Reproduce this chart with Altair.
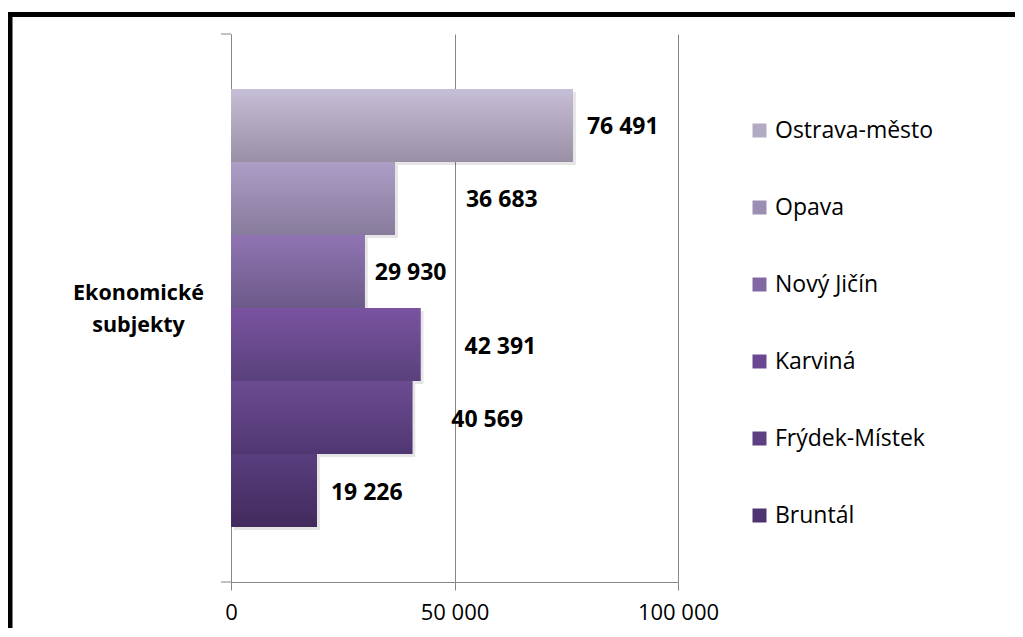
import altair as alt
import pandas as pd

# ---- data ----
districts = ["Ostrava-město", "Opava", "Nový Jičín", "Karviná", "Frýdek-Místek", "Bruntál"]
values = [76491, 36683, 29930, 42391, 40569, 19226]
category_title = ["Ekonomické", "subjekty"]
x_ticks = [0, 50000, 100000]

# ---- styles ----
grad_top = ["#c7bed7", "#ad9dc7", "#9074b3", "#7b53a1", "#6b4b91", "#583e7d"]
grad_bottom = ["#9990a5", "#877b9b", "#6c5a89", "#59417b", "#503771", "#432a5d"]
legend_colors = ["#b3aac3", "#9c8eb3", "#8168a3", "#6a4891", "#5d4082", "#4d3470"]
label_dx = [14, 71, 10, 44, 39, 14]
FONT = "Open Sans"
GRAY = "#868686"

W, H = 447, 548
PAD_L, PAD_T = 223, 26
TOTAL_W, TOTAL_H = 1007, 620

df = pd.DataFrame({
    "district": districts,
    "value": values,
    "label": [f"{v:,}".replace(",", " ") for v in values],
})

xenc = alt.X(
    "value:Q",
    scale=alt.Scale(domain=[0, 100000]),
    axis=alt.Axis(
        values=x_ticks, grid=True, gridColor=GRAY, gridWidth=1,
        domainColor=GRAY, tickColor=GRAY, tickSize=8,
        labelFont=FONT, labelFontSize=22, labelColor="#000", labelPadding=12,
        labelFlush=False, labelOverlap=False, labelBound=False,
        labelExpr="replace(format(datum.value, ','), /,/g, ' ')",
        title=None,
    ),
)
yenc = alt.Y(
    "district:N",
    sort=districts,
    scale=alt.Scale(domain=districts, paddingInner=0, paddingOuter=0.753),
    axis=alt.Axis(
        domain=True, domainColor=GRAY, ticks=False, labels=False, grid=False,
        title=category_title, titleAngle=0, titleAlign="center", titleBaseline="middle",
        titleX=-93, titleY=259, titleFont=FONT, titleFontSize=21.5, titleFontWeight="bold",
        titleColor="#000", titleLineHeight=32,
    ),
)

base = alt.Chart(df)

shadow = base.mark_bar(color="#000000", opacity=0.10, xOffset=3, yOffset=3).encode(x=xenc, y=yenc)

legend_bars = base.mark_bar().encode(
    x=xenc, y=yenc,
    color=alt.Color(
        "district:N",
        scale=alt.Scale(domain=districts, range=legend_colors),
        legend=alt.Legend(
            title=None, orient="none", legendX=517, legendY=85,
            symbolType="square", symbolSize=196, symbolStrokeWidth=0,
            labelFont=FONT, labelFontSize=23, labelColor="#000",
            rowPadding=53, labelOffset=4, labelLimit=300,
        ),
    ),
)

layers = [shadow, legend_bars]
for i, d in enumerate(districts):
    sub = base.transform_filter(alt.datum.district == d)
    grad = alt.LinearGradient(
        gradient="linear", x1=0, y1=0, x2=0, y2=1,
        stops=[alt.GradientStop(color=grad_top[i], offset=0),
               alt.GradientStop(color=grad_bottom[i], offset=1)],
    )
    layers.append(sub.mark_bar(color=grad).encode(x=xenc, y=yenc))
    layers.append(
        sub.mark_text(align="left", baseline="middle", dx=label_dx[i], dy=2, font=FONT,
                      fontSize=23, fontWeight="bold", color="#000").encode(
            x=xenc, y=yenc, text="label:N")
    )

one = pd.DataFrame({"k": [0]})
# small category-boundary ticks on the vertical axis
tick_top = alt.Chart(one).mark_rule(color=GRAY).encode(
    x=alt.value(-10), x2=alt.value(0), y=alt.value(0))
tick_bot = alt.Chart(one).mark_rule(color=GRAY).encode(
    x=alt.value(-10), x2=alt.value(0), y=alt.value(H))
# outer black frame
frame = alt.Chart(one).mark_rect(fill=None, stroke="#000000", strokeWidth=5).encode(
    x=alt.value(-221), x2=alt.value(TOTAL_W), y=alt.value(-19.5), y2=alt.value(TOTAL_H + 20))

chart = alt.layer(*layers, tick_top, tick_bot, frame).properties(
    width=W, height=H,
    autosize=alt.AutoSizeParams(type="none"),
    padding={"left": PAD_L, "top": PAD_T, "right": TOTAL_W - PAD_L - W, "bottom": TOTAL_H - PAD_T - H},
    background="white",
).configure_view(stroke=None)

chart.save("out.html", embed_options={"renderer": "svg", "actions": False})
